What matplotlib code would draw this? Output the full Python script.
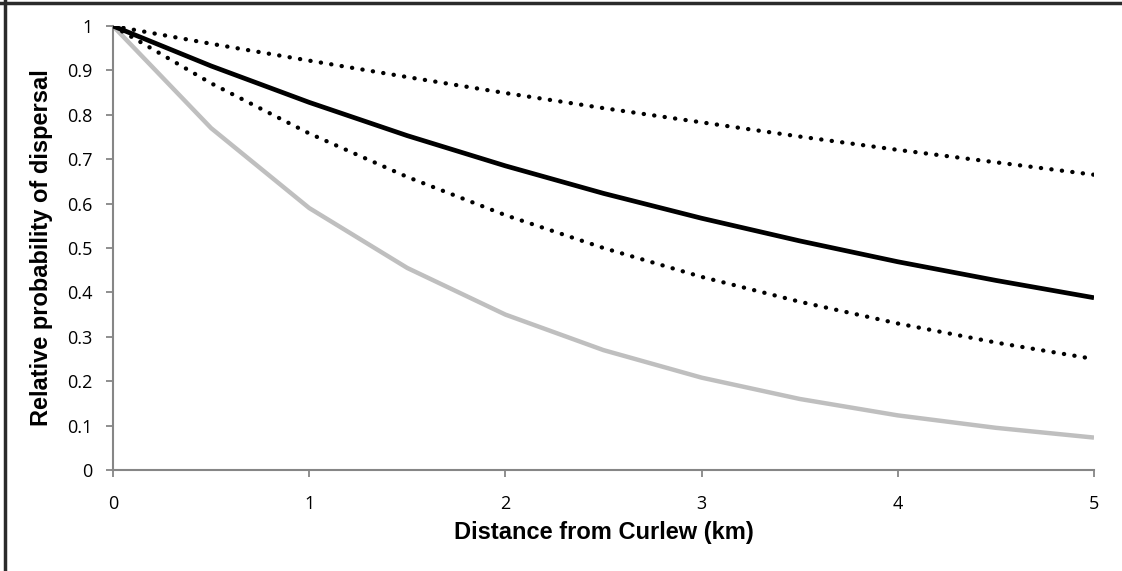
import matplotlib
matplotlib.use("Agg")
import matplotlib.pyplot as plt
from matplotlib.lines import Line2D

# distance from the colony (km), sampled every 0.5 km
distance = [0, 0.5, 1, 1.5, 2, 2.5, 3, 3.5, 4, 4.5, 5]

# relative dispersal probability for each kernel
upper_dotted = [1, 0.96, 0.922, 0.885, 0.849, 0.815, 0.783, 0.751, 0.721, 0.693, 0.665]
mean_kernel = [1, 0.91, 0.828, 0.753, 0.685, 0.623, 0.567, 0.516, 0.469, 0.427, 0.388]
lower_dotted = [1, 0.871, 0.758, 0.660, 0.574, 0.500, 0.435, 0.379, 0.330, 0.287, 0.250]
grey_kernel = [1, 0.77, 0.59, 0.455, 0.35, 0.27, 0.208, 0.16, 0.123, 0.095, 0.073]

xticks = [0, 1, 2, 3, 4, 5]
yticks = [0, 0.1, 0.2, 0.3, 0.4, 0.5, 0.6, 0.7, 0.8, 0.9, 1]
ytick_labels = ["0", "0.1", "0.2", "0.3", "0.4", "0.5", "0.6", "0.7", "0.8", "0.9", "1"]

fig = plt.figure(figsize=(11.22, 5.71), dpi=100)
ax = fig.add_axes([113 / 1122, 1 - 470 / 571, (1094 - 113) / 1122, (470 - 26) / 571])

dots = (0, (0.05, 2.4))
ax.plot(distance, grey_kernel, color="#bfbfbf", lw=3.2, solid_capstyle="butt", zorder=2)
ax.plot(distance, lower_dotted, color="black", lw=3.1, ls=dots,
        dash_capstyle="round", zorder=3)
ax.plot(distance, upper_dotted, color="black", lw=3.1, ls=dots,
        dash_capstyle="round", zorder=3)
ax.plot(distance, mean_kernel, color="black", lw=3.4, solid_capstyle="butt", zorder=4)

ax.set_xlim(0, 5)
ax.set_ylim(0, 1)
ax.set_xticks(xticks)
ax.set_xticklabels([str(t) for t in xticks])
ax.set_yticks(yticks)
ax.set_yticklabels(ytick_labels)

for s in ("top", "right"):
    ax.spines[s].set_visible(False)
for s in ("left", "bottom"):
    ax.spines[s].set_color("#868686")
    ax.spines[s].set_linewidth(1.5)
ax.tick_params(direction="out", length=5, width=1.3, color="#868686",
               labelsize=13, labelcolor="black")
ax.tick_params(axis="y", pad=10)
ax.tick_params(axis="x", pad=13)
for lab in ax.get_xticklabels() + ax.get_yticklabels():
    lab.set_family("Open Sans")

ax.set_xlabel("Distance from Curlew (km)", fontsize=17, fontweight="bold",
              family="Liberation Sans", labelpad=6)
ax.set_ylabel("Relative probability of dispersal", fontsize=17, fontweight="bold",
              family="Liberation Sans", labelpad=10)

# outer frame (top and left edges)
fig.add_artist(Line2D([0, 1], [1 - 3 / 571, 1 - 3 / 571], transform=fig.transFigure,
                      color="#2b2b2b", lw=2.5))
fig.add_artist(Line2D([5 / 1122, 5 / 1122], [0, 1], transform=fig.transFigure,
                      color="#2b2b2b", lw=2.5))

fig.savefig("out.png", dpi=100)
